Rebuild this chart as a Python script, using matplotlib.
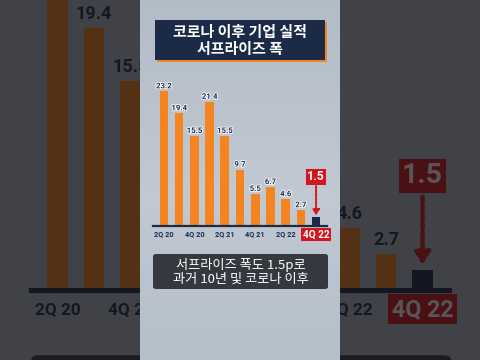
import matplotlib
matplotlib.use("Agg")
import matplotlib.pyplot as plt
import matplotlib.patches as mpatches
import matplotlib.patheffects as pe
import numpy as np

# ---- data ----
quarters = ["2Q 20", "3Q 20", "4Q 20", "1Q 21", "2Q 21", "3Q 21", "4Q 21",
            "1Q 22", "2Q 22", "3Q 22", "4Q 22"]
values = [23.2, 19.4, 15.5, 21.4, 15.5, 9.7, 5.5, 6.7, 4.6, 2.7, 1.5]
tick_labels = ["2Q 20", "", "4Q 20", "", "2Q 21", "", "4Q 21", "", "2Q 22", "", "4Q 22"]
title_text = "코로나 이후 기업 실적\n서프라이즈 폭"
subtitle_text = "서프라이즈 폭도 1.5p로\n과거 10년 및 코로나 이후"
callout_text = "1.5"

W, H = 480, 360
ORANGE = "#f5841f"
NAVY = "#1b2b47"
RED = "#d3161d"
PANEL = "#b6bfca"
KR = ["Noto Sans CJK KR", "DejaVu Sans"]
PPU = 5.8  # pixels per unit in the foreground chart

fig = plt.figure(figsize=(4.8, 3.6), dpi=100)
fig.patch.set_facecolor(PANEL)


def T(x, y, sc):
    sx, sy, cx, cy = sc
    return cx + sx * (x - cx), cy + sy * (y - cy)


def fig_rect(x0, y0, x1, y1, sc, color, z, alpha=1.0, rounded=False):
    ax0, ay0 = T(x0, y0, sc)
    ax1, ay1 = T(x1, y1, sc)
    fx0, fx1 = ax0 / W, ax1 / W
    fy0, fy1 = 1 - ay1 / H, 1 - ay0 / H
    if rounded:
        p = mpatches.FancyBboxPatch((fx0, fy0), fx1 - fx0, fy1 - fy0,
                                    boxstyle="round,pad=0,rounding_size=%f" % (3 * sc[0] / W),
                                    transform=fig.transFigure, facecolor=color,
                                    edgecolor="none", alpha=alpha, zorder=z)
    else:
        p = mpatches.Rectangle((fx0, fy0), fx1 - fx0, fy1 - fy0,
                               transform=fig.transFigure, facecolor=color,
                               edgecolor="none", alpha=alpha, zorder=z)
    fig.add_artist(p)


def fig_text(x, y, sc, txt, size, z, **kw):
    ax_, ay_ = T(x, y, sc)
    fig.text(ax_ / W, 1 - ay_ / H, txt, fontsize=size * sc[1], zorder=z,
             ha="center", va="center", **kw)


def draw_scene(sc, zbase, halo):
    s = sc[1]
    ymax = 25.0
    top = 226 - ymax * PPU
    x0, y0 = T(153, top, sc)
    x1, y1 = T(327, 226, sc)
    ax = fig.add_axes([x0 / W, 1 - y1 / H, (x1 - x0) / W, (y1 - y0) / H])
    ax.set_zorder(zbase + 1)
    ax.patch.set_alpha(0)
    xs = np.arange(len(values))
    colors = [ORANGE] * (len(values) - 1) + [NAVY]
    ax.bar(xs, values, width=0.57, color=colors, zorder=2)
    ax.set_xlim(-0.72, len(values) - 1 + 0.72)
    ax.set_ylim(0, ymax)
    for sp in ["top", "right", "left"]:
        ax.spines[sp].set_visible(False)
    ax.spines["bottom"].set_color(NAVY)
    ax.spines["bottom"].set_linewidth(1.6 * s)
    ax.set_yticks([])
    ax.set_xticks([])
    effects = [pe.withStroke(linewidth=halo, foreground="white")] if halo else []
    for i, v in enumerate(values[:-1]):
        ax.annotate(f"{v}", (i, v), xytext=(0, 1.5 * s), textcoords="offset points",
                    ha="center", va="bottom", fontsize=5.6 * s, color=NAVY,
                    fontweight="semibold", family="Roboto", path_effects=effects)
    for i, lab in enumerate(tick_labels):
        if not lab:
            continue
        last = i == len(tick_labels) - 1
        if last:
            ax.annotate(lab, (i, 0), xytext=(0, -6 * s), textcoords="offset points",
                        ha="center", va="center", fontsize=7.2 * s, color="white",
                        fontweight="bold", family="Roboto", annotation_clip=False,
                        bbox=dict(boxstyle="square,pad=0.15", fc=RED, ec="none"))
        else:
            ax.annotate(lab, (i, 0), xytext=(0, -6 * s), textcoords="offset points",
                        ha="center", va="center", fontsize=5.3 * s, color=NAVY,
                        fontweight="semibold", family="Roboto", annotation_clip=False)
    n = len(values) - 1
    ax.text(n, (226 - 177) / PPU, callout_text, ha="center", va="center",
            fontsize=8.8 * s, color="white", fontweight="bold", family="Roboto",
            clip_on=False, bbox=dict(boxstyle="square,pad=0.12", fc=RED, ec="none"))
    ax.annotate("", xy=(n, values[-1] + 0.35), xytext=(n, (226 - 186) / PPU),
                arrowprops=dict(arrowstyle="-|>,head_width=0.25,head_length=0.4",
                                color=RED, lw=1.4 * s, linestyle=(0, (1.2, 0.8)),
                                mutation_scale=8 * s, shrinkA=0, shrinkB=0))
    # title box
    fig_rect(157, 22, 327, 62, sc, ORANGE, zbase + 2)
    fig_rect(155, 20, 325, 60, sc, NAVY, zbase + 3)
    fig_text(240, 40.5, sc, title_text, 10.8, zbase + 4, color="white",
             fontweight="bold", family=KR, linespacing=1.15)
    # subtitle box
    fig_rect(153, 254, 328, 289, sc, "#2e3237", zbase + 2, alpha=0.95, rounded=True)
    fig_text(240.5, 271.5, sc, subtitle_text, 9.5, zbase + 4, color="white",
             family=KR, linespacing=1.1)
    return ax


# background (magnified, darkened)
BG_SY = 2.33
BG_CY = (BG_SY * 226 - 290) / (BG_SY - 1)
draw_scene((2.4, BG_SY, 240, BG_CY), 0, halo=0)
fig_rect(0, 0, 480, 360, (1, 1, 240, 180), "#120f12", 8, alpha=0.71)

# central panel
gax = fig.add_axes([140 / W, 0, 200 / W, 1])
gax.set_zorder(10)
yy = np.linspace(0, 1, 200)[:, None]
c_top = np.array([0.70, 0.74, 0.78])
c_mid = np.array([0.77, 0.80, 0.84])
wgt = np.clip(1 - np.abs(yy - 0.55) / 0.55, 0, 1)[..., None] * np.ones((1, 100, 1))
img = c_top + (c_mid - c_top) * wgt * 0.8
gax.imshow(img, aspect="auto", extent=[0, 1, 0, 1], origin="upper")
gax.set_axis_off()

draw_scene((1, 1, 240, 180), 20, halo=1.2)

fig.savefig("out.png", dpi=100)
